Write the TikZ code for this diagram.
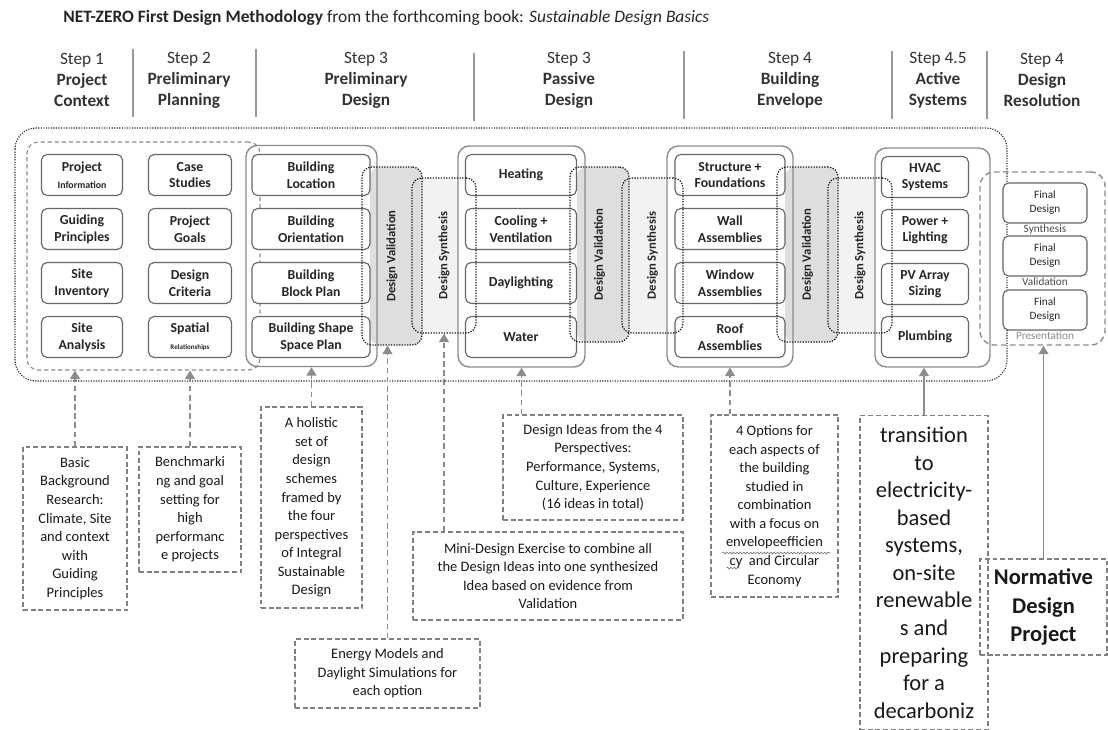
\documentclass[tikz,border=0pt]{standalone}
\usepackage{fontspec}
\setmainfont{Carlito}
\usetikzlibrary{arrows.meta,decorations.pathmorphing}
\def\pxu{0.025cm}
\tikzset{
  card/.style={draw=black!60, line width=0.8pt, rounded corners=4pt, fill=white,
    minimum width=#1*\pxu, minimum height=41*\pxu, inner sep=1pt, align=center,
    text=black!85, font=\fontsize{9.8}{11.8}\selectfont\bfseries},
  finalcard/.style={card=84, minimum height=40*\pxu, font=\fontsize{8}{10}\selectfont},
  frame/.style={draw=black!45, line width=1pt, rounded corners=8pt},
  band/.style={draw=black!90, line width=0.9pt, densely dotted, rounded corners=7pt},
  lbl/.style={text=black!85, font=\fontsize{9}{10}\selectfont\bfseries},
  sublbl/.style={text=black!70, font=\fontsize{8}{9}\selectfont, inner sep=0.5pt},
  note/.style={draw=black!50, line width=1pt, dash pattern=on 3.5pt off 2pt, align=center,
    text=black!90, font=\fontsize{10.3}{13.2}\selectfont, inner sep=2pt},
  squig/.style={decorate, decoration={snake, amplitude=0.6pt, segment length=2.4pt},
    draw=black!55, line width=0.45pt},
  conn/.style={draw=black!45, line width=1.1pt, dash pattern=on 4pt off 2.5pt,
    -{Triangle[width=7pt,length=6pt]}},
  solidconn/.style={draw=black!45, line width=1.3pt, -{Triangle[width=7pt,length=6pt]}},
  head/.style={align=center, text=black!80, font=\fontsize{12.3}{14.9}\selectfont},
  sep/.style={draw=black!40, line width=0.8pt},
}
\begin{document}
\begin{tikzpicture}[x=0.025cm, y=-0.025cm]
  %%%%% START %%%%%
  \useasboundingbox (0,0) rectangle (1108,729);
  \clip (0,0) rectangle (1108,729);

  % title and step headers
  \node[anchor=west, text=black!85, font=\fontsize{12.4}{14}\selectfont, inner sep=0pt] (title) at (63,18)
    {\textbf{NET-ZERO First Design Methodology} from the forthcoming book: \textit{Sustainable Design Basics}};

  \node[head] (h1) at (82,80) {Step 1\\\textbf{Project}\\\textbf{Context}};
  \node[head] (h2) at (189,80) {Step 2\\\textbf{Preliminary}\\\textbf{Planning}};
  \node[head] (h3) at (366,80) {Step 3\\\textbf{Preliminary}\\\textbf{Design}};
  \node[head] (h4) at (569,80) {Step 3\\\textbf{Passive}\\\textbf{Design}};
  \node[head] (h5) at (790,80) {Step 4\\\textbf{Building}\\\textbf{Envelope}};
  \node[head] (h6) at (938,80) {Step 4.5\\\textbf{Active}\\\textbf{Systems}};
  \node[head] (h7) at (1042,80) {Step 4\\\textbf{Design}\\\textbf{Resolution}};

  \draw[sep] (133,49) -- (133,117);
  \draw[sep] (256,49) -- (256,117);
  \draw[sep] (474,53) -- (474,121);
  \draw[sep] (684,51) -- (684,119);
  \draw[sep] (892,51) -- (892,119);
  \draw[sep] (987,51) -- (987,119);

  % shaded bands
  \fill[black!13, rounded corners=7pt] (370,167) rectangle (422,345);
  \fill[black!5] (422,178) rectangle (458,333);
  \fill[black!13, rounded corners=7pt] (577,167) rectangle (629,342);
  \fill[black!5] (629,178) rectangle (667,333);
  \fill[black!13, rounded corners=7pt] (785,167) rectangle (838,342);
  \fill[black!5] (838,178) rectangle (875,333);

  % outer frame
  \draw[black!85, line width=0.8pt, densely dotted, rounded corners=15pt] (15,128) rectangle (1007,381);

  \node[draw=black!45, dash pattern=on 3pt off 2pt, line width=0.8pt, rounded corners=8pt,
    minimum width=233*\pxu, minimum height=228*\pxu] (ctx) at (143.5,256) {};
  \node[draw=black!45, dash pattern=on 4pt off 2.5pt, line width=1pt, rounded corners=10pt,
    minimum width=125*\pxu, minimum height=173*\pxu] (res) at (1042.5,258.5) {};

  \node[frame, minimum width=131*\pxu, minimum height=221*\pxu] (bframe) at (311.5,256) {};
  \node[frame, minimum width=127*\pxu, minimum height=221*\pxu] (pframe) at (521.5,256.5) {};
  \node[frame, minimum width=126*\pxu, minimum height=221*\pxu] (eframe) at (730,256.5) {};
  \node[frame, minimum width=115*\pxu, minimum height=219*\pxu] (aframe) at (932.5,257.5) {};

  % step 1 and 2
  \node[card=81] (info) at (82,175) {Project\\{\fontsize{7}{8}\selectfont Information}};
  \node[card=81] (guide) at (82,229) {Guiding\\Principles};
  \node[card=81] (inv) at (82,283) {Site\\Inventory};
  \node[card=81] (anal) at (82,337) {Site\\Analysis};
  \node[card=83] (case) at (190,175) {Case\\Studies};
  \node[card=83] (goals) at (190,229) {Project\\Goals};
  \node[card=83] (crit) at (190,283) {Design\\Criteria};
  \node[card=83] (spat) at (190,337) {Spatial\\{\fontsize{5}{6}\selectfont Relationships}};

  % step 3
  \node[card=118] (loc) at (311,175) {Building\\Location};
  \node[card=118] (ori) at (311,229) {Building\\Orientation};
  \node[card=118] (block) at (311,283) {Building\\Block Plan};
  \node[card=118] (shape) at (311,337) {Building Shape\\Space Plan};

  \node[card=111] (heat) at (521,175) {Heating};
  \node[card=111] (cool) at (521,229) {Cooling +\\Ventilation};
  \node[card=111] (day) at (521,283) {Daylighting};
  \node[card=111] (water) at (521,337) {Water};

  % step 4
  \node[card=110] (struct) at (730,175) {Structure +\\Foundations};
  \node[card=110] (wall) at (730,229) {Wall\\Assemblies};
  \node[card=110] (window) at (730,283) {Window\\Assemblies};
  \node[card=110] (roof) at (730,337) {Roof\\Assemblies};

  \node[card=87] (hvac) at (925,177) {HVAC\\Systems};
  \node[card=87] (power) at (925,230) {Power +\\Lighting};
  \node[card=87] (pv) at (925,284) {PV Array\\Sizing};
  \node[card=87] (plumb) at (925,337) {Plumbing};

  \node[finalcard, label={[sublbl]below:Synthesis}] (fsyn) at (1045,203) {Final\\Design};
  \node[finalcard, label={[sublbl]below:Validation}] (fval) at (1045,256) {Final\\Design};
  \node[finalcard, label={[sublbl, text=black!45]below:Presentation}] (fpres) at (1045,310) {Final\\Design};

  % validation / synthesis loops
  \node[band, minimum width=60*\pxu, minimum height=178*\pxu,
    label={[lbl, rotate=90]center:Design Validation}] (val1) at (392,256) {};
  \node[band, minimum width=64*\pxu, minimum height=155*\pxu,
    label={[lbl, rotate=90]center:Design Synthesis}] (syn1) at (444,255.5) {};
  \node[band, minimum width=59*\pxu, minimum height=175*\pxu,
    label={[lbl, rotate=90]center:Design Validation}] (val2) at (599.5,254.5) {};
  \node[band, minimum width=61*\pxu, minimum height=155*\pxu,
    label={[lbl, rotate=90]center:Design Synthesis}] (syn2) at (652.5,255.5) {};
  \node[band, minimum width=61*\pxu, minimum height=175*\pxu,
    label={[lbl, rotate=90]center:Design Validation}] (val3) at (807.5,254.5) {};
  \node[band, minimum width=64*\pxu, minimum height=155*\pxu,
    label={[lbl, rotate=90]center:Design Synthesis}] (syn3) at (860,255.5) {};

  % notes below
  \node[note, minimum width=104*\pxu, minimum height=163*\pxu] (basic) at (75,528.5)
    {Basic\\Background\\Research:\\Climate, Site\\and context\\with\\Guiding\\Principles};
  \node[note, minimum width=102*\pxu, minimum height=125*\pxu] (bench) at (190,509.5)
    {Benchmarki\\ng and goal\\setting for\\high\\performanc\\e projects};
  \node[note, minimum width=101*\pxu, minimum height=201*\pxu] (holi) at (311.5,507.5)
    {A holistic\\set of\\design\\schemes\\framed by\\the four\\perspectives\\of Integral\\Sustainable\\Design};
  \node[note, minimum width=185*\pxu, minimum height=69*\pxu] (energy) at (387.5,673.5)
    {Energy Models and\\Daylight Simulations for\\each option};
  \node[note, minimum width=270*\pxu, minimum height=88*\pxu] (mini) at (548,576)
    {Mini-Design Exercise to combine all\\the Design Ideas into one synthesized\\Idea based on evidence from\\Validation};
  \node[note, minimum width=180*\pxu, minimum height=105*\pxu] (ideas) at (593,467.5)
    {Design Ideas from the 4\\Perspectives:\\Performance, Systems,\\Culture, Experience\\(16 ideas in total)};
  \node[note, minimum width=127*\pxu, minimum height=182*\pxu] (opts) at (774.5,506)
    {4 Options for\\each aspects of\\the building\\studied in\\combination\\with a focus on\\envelopeefficien\\cy\ \ and Circular\\Economy};
  \draw[squig] (opts.center) ++(-52,47) -- ++(108,0);
  \draw[squig] (opts.center) ++(-48,62) -- ++(13,0);
  \node[note, anchor=north, minimum width=128*\pxu, inner ysep=8pt, font=\fontsize{16}{19.6}\selectfont] (trans) at (924,415)
    {transition\\to\\electricity-\\based\\systems,\\on-site\\renewable\\s and\\preparing\\for a\\decarboniz};
  \node[note, minimum width=127*\pxu, minimum height=96*\pxu, font=\fontsize{16}{20}\selectfont\bfseries] (norm) at (1043.5,607)
    {Normative\\Design\\Project};

  \draw[conn] (basic.north) -- (basic.north |- ctx.south);
  \draw[conn] (bench.north) -- (bench.north |- ctx.south);
  \draw[conn] (holi.north) -- (holi.north |- bframe.south);
  \draw[conn] (energy.north) -- (energy.north |- val1.south);
  \draw[conn] (mini.north -| syn1.south) -- (syn1.south);
  \draw[conn] (ideas.north -| pframe.south) -- (pframe.south);
  \draw[conn] (opts.north -| eframe.south) -- (eframe.south);
  \draw[solidconn] (trans.north) -- (trans.north |- aframe.south);
  \draw[solidconn] (norm.north) -- (norm.north |- res.south);
  %%%%% END %%%%%
\end{tikzpicture}
\end{document}
